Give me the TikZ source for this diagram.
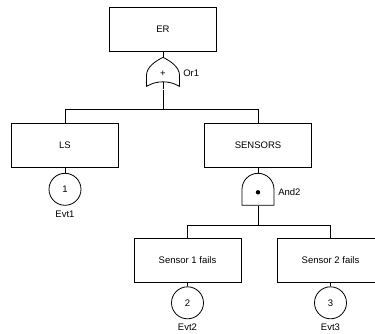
\documentclass[tikz,border=0pt]{standalone}
\usepackage{fontspec}
\setmainfont{Liberation Sans}
\usetikzlibrary{positioning}

\begin{document}
\begin{tikzpicture}[
    x=1pt, y=-1pt,
    line width=0.8pt,
    % Define styles
    base/.style={inner sep=0pt, font=\fontsize{9.5}{11}\selectfont},
    event/.style={base, rectangle, draw, minimum width=107pt, minimum height=44pt},
    basic/.style={base, circle, draw, minimum size=32pt},
    gate/.style={base, rectangle, minimum width=33pt, minimum height=32pt},
    tag/.style={base, inner sep=1pt},
    wire/.style={draw}
]
    \useasboundingbox (0,0) rectangle (375,333);
    \clip (0,0) rectangle (375,333);

    % --- TOP EVENT ---
    \node (er) [event] at (163,29.5) {ER};
    \node (or1) [gate, below=5pt of er] {+};
    \node (or1_tag) [tag, right=2pt of or1] {Or1};

    % OR gate outline
    \draw[shift={(or1.center)}] (0,-16) .. controls (-8,-12) and (-16.5,-6) .. (-16.5,2)
        -- (-16.5,13) .. controls (-6,7) and (6,7) .. (16.5,13)
        -- (16.5,2) .. controls (16.5,-6) and (8,-12) .. (0,-16);
    \draw[shift={(or1.center)}] (0,8.5) -- (0,16);

    % --- SECOND LEVEL ---
    \node (ls) [event] at (65,145.5) {LS};
    \node (sensors) [event] at (258,145.5) {SENSORS};

    \node (evt1) [basic, below=5pt of ls] {1};
    \node (evt1_tag) [base, below=5pt of evt1] {Evt1};

    \node (and2) [gate, below=5pt of sensors] {};
    \node (and2_tag) [tag, right=2pt of and2, yshift=-3pt] {And2};

    % AND gate outline
    \draw[shift={(and2.center)}] (-16,16) -- (-16,0) arc[start angle=180, end angle=360, radius=16]
        -- (16,16) -- cycle;
    \fill[shift={(and2.center)}] (0,3) circle[radius=2.2];

    % --- SENSOR EVENTS ---
    \node (s1) [event] at (187.5,260) {Sensor 1 fails};
    \node (s2) [event] at (330.5,260) {Sensor 2 fails};

    \node (evt2) [basic, below=4pt of s1] {2};
    \node (evt2_tag) [base, below=4pt of evt2] {Evt2};
    \node (evt3) [basic, below=4pt of s2] {3};
    \node (evt3_tag) [base, below=4pt of evt3] {Evt3};

    % --- DRAW CONNECTIONS ---
    \draw [wire] (er) -- (or1);
    \draw [wire] (or1.south) -- ++(0,20) coordinate (bus1);
    \draw [wire] (bus1) -| (ls.north);
    \draw [wire] (bus1) -| (sensors.north);

    \draw [wire] (ls) -- (evt1);
    \draw [wire] (sensors) -- (and2);

    \draw [wire] (and2.south) -- ++(0,20) coordinate (bus2);
    \draw [wire] (bus2) -| (s1.north);
    \draw [wire] (bus2) -| (s2.north);

    \draw [wire] (s1) -- (evt2);
    \draw [wire] (s2) -- (evt3);

\end{tikzpicture}
\end{document}
